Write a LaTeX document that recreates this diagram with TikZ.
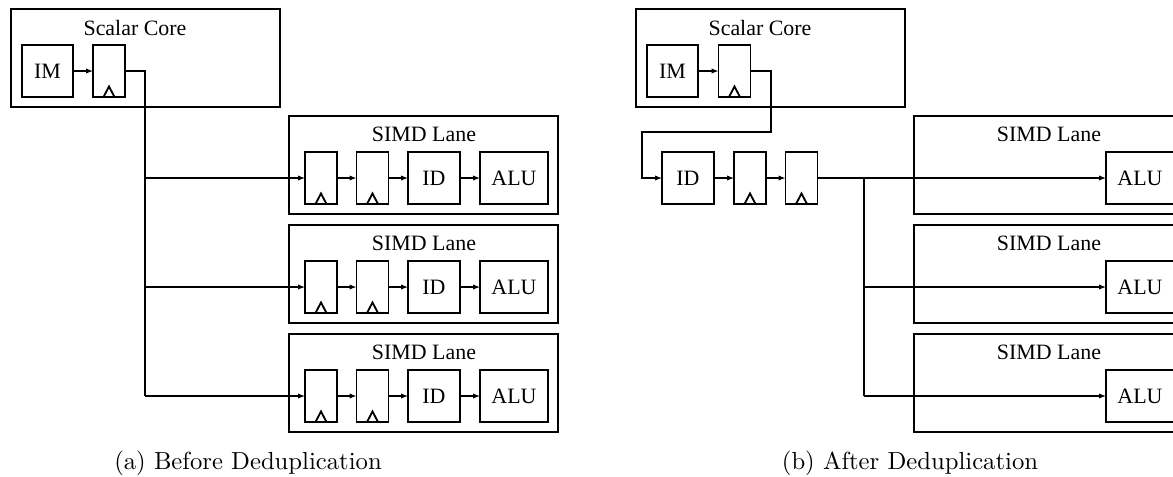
\documentclass[tikz,border=0pt]{standalone}
\usepackage{fontspec}
\newfontfamily\tm{Liberation Serif}
\usetikzlibrary{arrows.meta}
\newcommand{\uu}{0.4335pt}
\tikzset{
  outer/.style={draw, line width=1.0pt, inner sep=0, outer sep=0, minimum width={269*\uu}, minimum height={98*\uu}},
  blk/.style={draw, line width=0.75pt, inner sep=0, outer sep=0, minimum height={52*\uu}, font=\tm\fontsize{9.5}{11}\selectfont},
  regb/.style={blk, minimum width={32*\uu}},
  imb/.style={blk, minimum width={51*\uu}},
  idb/.style={blk, minimum width={52*\uu}},
  alub/.style={blk, minimum width={68*\uu}},
  ttl/.style={inner sep=0, font=\tm\fontsize{9.5}{11}\selectfont},
  captxt/.style={inner sep=0, anchor=base, font=\fontsize{10.7}{12}\selectfont},
  wire/.style={line width=0.5pt, -{Latex[length=3pt,width=2.3pt]}},
  wirep/.style={line width=0.5pt},
  clkt/.style={line width=0.8pt}
}
\newcommand{\clk}[1]{\draw[clkt] ([xshift=-5.5*\uu]#1.south) -- ([yshift=10.5*\uu]#1.south) -- ([xshift=5.5*\uu]#1.south);}
\begin{document}
\begin{tikzpicture}[x=\uu, y=-\uu]
\useasboundingbox (0,0) rectangle (1173,476);
\clip (0,0) rectangle (1173,476);
% ---------------- Left panel ----------------
\node[outer] (scA) at (145.5,58) {};
\node[ttl] (scAt) at (135,28) {Scalar Core};
\node[imb] (imA) at (47.5,71) {IM};
\node[regb] (rA) at (109,71) {};
\clk{rA}
\draw[wire] (imA) -- (rA);
\foreach \i/\T in {1/116,2/225,3/334}{
  \node[outer] (lA\i) at (423.5,\T+49) {};
  \node[ttl] (lA\i-t) at (424,\T+18) {SIMD Lane};
  \node[regb] (lA\i-r1) at (321,\T+62) {};
  \node[regb] (lA\i-r2) at (372.5,\T+62) {};
  \node[idb] (lA\i-id) at (434,\T+62) {ID};
  \node[alub] (lA\i-alu) at (514,\T+62) {ALU};
  \clk{lA\i-r1}
  \clk{lA\i-r2}
  \draw[wire] (lA\i-r1) -- (lA\i-r2);
  \draw[wire] (lA\i-r2) -- (lA\i-id);
  \draw[wire] (lA\i-id) -- (lA\i-alu);
  \coordinate (bA\i) at (145,\T+62);
  \draw[wire] (bA\i) -- (lA\i-r1.west);
}
\draw[wirep] (rA.east) -| (bA3);
% ---------------- Right panel ----------------
\node[outer] (scB) at (770.5,58) {};
\node[ttl] (scBt) at (760,28) {Scalar Core};
\node[imb] (imB) at (672.5,71) {IM};
\node[regb] (rB) at (734.5,71) {};
\clk{rB}
\draw[wire] (imB) -- (rB);
\node[idb] (idB) at (688,178) {ID};
\node[regb] (rB1) at (750,178) {};
\node[regb] (rB2) at (801.5,178) {};
\clk{rB1}
\clk{rB2}
\coordinate (cB1) at (771,132);
\coordinate (cB2) at (642,132);
\draw[wire] (rB.east) -| (cB1) -- (cB2) |- (idB.west);
\draw[wire] (idB) -- (rB1);
\draw[wire] (rB1) -- (rB2);
\foreach \i/\T in {1/116,2/225,3/334}{
  \node[outer] (lB\i) at (1048.5,\T+49) {};
  \node[ttl] (lB\i-t) at (1049,\T+18) {SIMD Lane};
  \node[alub] (lB\i-alu) at (1140,\T+62) {ALU};
  \coordinate (bB\i) at (864,\T+62);
  \draw[wire] (bB\i) -- (lB\i-alu.west);
}
\draw[wirep] (rB2.east) -- (bB1) -- (bB3);
% ---------------- Captions ----------------
\node[captxt] (capA) at (248,469) {(a) Before Deduplication};
\node[captxt] (capB) at (910,469) {(b) After Deduplication};
\end{tikzpicture}
\end{document}
